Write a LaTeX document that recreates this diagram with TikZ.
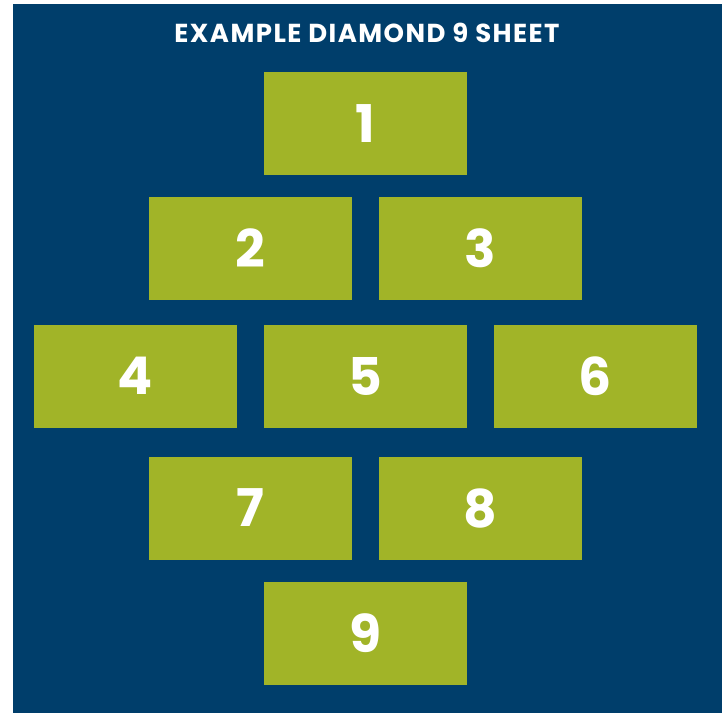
\documentclass[tikz,border=0pt]{standalone}
\usepackage{fontspec}
\setmainfont{Poppins}
\newfontfamily\titlefont{Poppins}[LetterSpace=5.5]
\definecolor{navy}{RGB}{0,62,107}
\definecolor{olive}{RGB}{161,180,40}
\begin{document}
\begin{tikzpicture}[x=1pt,y=-1pt,
  card/.style={fill=olive, draw=none, minimum width=203pt, minimum height=103pt, inner sep=0pt, text=white, font=\fontsize{52}{52}\selectfont\bfseries},
]
\useasboundingbox (0,0) rectangle (726,713);
\fill[white] (0,0) rectangle (726,713);
\fill[navy] (13,4) rectangle (722,713);
\node[text=white, font=\titlefont\fontsize{26}{26}\selectfont\bfseries] (title) at (367,33) {EXAMPLE DIAMOND 9 SHEET};
\node[card] (n1) at (365.5,123.5) {1};
\node[card] (n2) at (250.5,248) {2};
\node[card] (n3) at (480.5,248) {3};
\node[card] (n4) at (135.5,376) {4};
\node[card] (n5) at (365.5,376) {5};
\node[card] (n6) at (595.5,376) {6};
\node[card] (n7) at (250.5,508) {7};
\node[card] (n8) at (480.5,508) {8};
\node[card] (n9) at (365.5,633) {9};
\end{tikzpicture}
\end{document}
